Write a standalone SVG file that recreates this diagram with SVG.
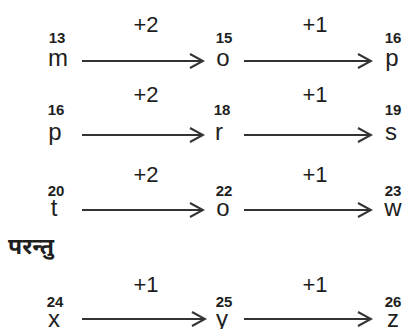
<svg xmlns="http://www.w3.org/2000/svg" width="409" height="329" viewBox="0 0 409 329">
<defs>
<style>
.let{font-family:"Liberation Sans",Arial,sans-serif;font-size:24px;fill:#1e1e1e;text-anchor:middle}
.num{font-family:"Liberation Sans",Arial,sans-serif;font-size:15px;font-weight:bold;fill:#1e1e1e;text-anchor:middle}
.op{font-family:"Liberation Sans",Arial,sans-serif;font-size:22px;fill:#1e1e1e;text-anchor:middle}
.hi{font-family:"Noto Sans Devanagari","Noto Sans","Lohit Devanagari",sans-serif;font-size:23px;font-weight:bold;fill:#1e1e1e}
.arr{stroke:#333;stroke-width:2;fill:none}
</style>
<marker id="ah" markerWidth="16" markerHeight="16" refX="14" refY="8" orient="auto" markerUnits="userSpaceOnUse">
<path d="M1,1 L14,8 L1,15" fill="none" stroke="#333" stroke-width="2"/>
</marker>
</defs>
<rect width="409" height="329" fill="#fff"/>
<g id="connectors">
<line class="arr" x1="82" y1="61" x2="203" y2="61" marker-end="url(#ah)"/>
<line class="arr" x1="244" y1="61" x2="371" y2="61" marker-end="url(#ah)"/>
<line class="arr" x1="82" y1="135" x2="203" y2="135" marker-end="url(#ah)"/>
<line class="arr" x1="244" y1="135" x2="371" y2="135" marker-end="url(#ah)"/>
<line class="arr" x1="82" y1="210" x2="203" y2="210" marker-end="url(#ah)"/>
<line class="arr" x1="244" y1="210" x2="371" y2="210" marker-end="url(#ah)"/>
<line class="arr" x1="82" y1="319" x2="205" y2="319" marker-end="url(#ah)"/>
<line class="arr" x1="244" y1="319" x2="371" y2="319" marker-end="url(#ah)"/>
</g>
<g id="labels">
<text class="op" x="146" y="32">+2</text><text class="op" x="315" y="32">+1</text>
<text class="op" x="146" y="102">+2</text><text class="op" x="315" y="102">+1</text>
<text class="op" x="146" y="182">+2</text><text class="op" x="315" y="182">+1</text>
<text class="op" x="146" y="292">+1</text><text class="op" x="315" y="292">+1</text>
</g>
<g id="n-m"><text class="num" x="57" y="43">13</text><text class="let" x="58" y="66">m</text></g>
<g id="n-o1"><text class="num" x="224" y="43">15</text><text class="let" x="223" y="66">o</text></g>
<g id="n-p1"><text class="num" x="393" y="43">16</text><text class="let" x="392" y="66">p</text></g>
<g id="n-p2"><text class="num" x="56" y="115">16</text><text class="let" x="55" y="140">p</text></g>
<g id="n-r"><text class="num" x="222" y="115">18</text><text class="let" x="219" y="140">r</text></g>
<g id="n-s"><text class="num" x="393" y="115">19</text><text class="let" x="391" y="140">s</text></g>
<g id="n-t"><text class="num" x="56" y="196">20</text><text class="let" x="54" y="216">t</text></g>
<g id="n-o2"><text class="num" x="224" y="196">22</text><text class="let" x="223" y="216">o</text></g>
<g id="n-w"><text class="num" x="393" y="196">23</text><text class="let" x="393" y="216">w</text></g>
<g id="n-but"><text class="hi" x="8" y="254">परन्तु</text></g>
<g id="n-x"><text class="num" x="55" y="307">24</text><text class="let" x="54" y="327">x</text></g>
<g id="n-y"><text class="num" x="224" y="307">25</text><text class="let" x="222" y="327">y</text></g>
<g id="n-z"><text class="num" x="393" y="307">26</text><text class="let" x="393" y="327">z</text></g>
</svg>
